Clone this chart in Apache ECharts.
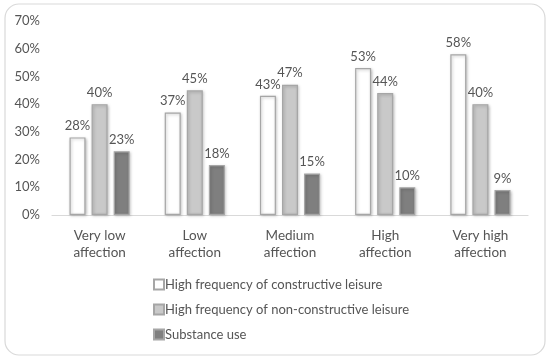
<!DOCTYPE html>
<html><head><meta charset="utf-8">
<script src="https://cdn.jsdelivr.net/npm/echarts@6/dist/echarts.min.js"></script>
<style>html,body{margin:0;padding:0;background:#fff}#c{width:550px;height:360px}</style>
</head><body><div id="c"></div>
<script>
const categories = ['Very low\naffection','Low\naffection','Medium\naffection','High\naffection','Very high\naffection'];
const seriesNames = ['High frequency of constructive leisure','High frequency of non-constructive leisure','Substance use'];
const constructive = [28,37,43,53,58];
const nonConstructive = [40,45,47,44,40];
const substance = [23,18,15,10,9];
const yTicks = [0,10,20,30,40,50,60,70];

const font = 'Lato, "Open Sans", sans-serif';
const txt = '#555555';
const fills = ['#ffffff','#c9c9c9','#7f7f7f'];
const datas = [constructive, nonConstructive, substance];

const chart = echarts.init(document.getElementById('c'), null, {renderer:'canvas'});
chart.setOption({
  animation:false,
  textStyle:{fontFamily:font,color:txt},
  graphic:[{type:'rect',shape:{x:5,y:4,width:540,height:351,r:14},style:{fill:'none',stroke:'#d9d9d9',lineWidth:1.2},z:-10}],
  grid:{left:52,right:22,top:21,bottom:145},
  legend:{orient:'vertical',left:148,top:273,itemGap:12,itemWidth:10,itemHeight:10,icon:'rect',
    textStyle:{fontFamily:font,color:txt,fontSize:13,padding:[0,0,0,-4]},data:seriesNames},
  xAxis:{type:'category',data:categories,axisTick:{show:false},
    axisLine:{lineStyle:{color:'#d9d9d9',width:1.2}},
    axisLabel:{fontFamily:font,color:txt,fontSize:13.5,lineHeight:17,margin:12}},
  yAxis:{type:'value',min:yTicks[0],max:yTicks[yTicks.length-1],interval:10,splitLine:{show:false},
    axisLabel:{fontFamily:font,color:txt,fontSize:13,formatter:v=>v+'%',margin:12}},
  series:datas.map((d,i)=>({
    name:seriesNames[i],type:'bar',data:d,barWidth:16,barGap:'38%',
    itemStyle:{color:fills[i],borderColor:'#a6a6a6',borderWidth:1.2,shadowColor:'rgba(0,0,0,0.25)',shadowBlur:3,shadowOffsetX:1,shadowOffsetY:1},
    label:{show:true,position:'top',distance:5,formatter:p=>p.value+'%',fontFamily:font,color:txt,fontSize:13}
  }))
});
</script></body></html>
